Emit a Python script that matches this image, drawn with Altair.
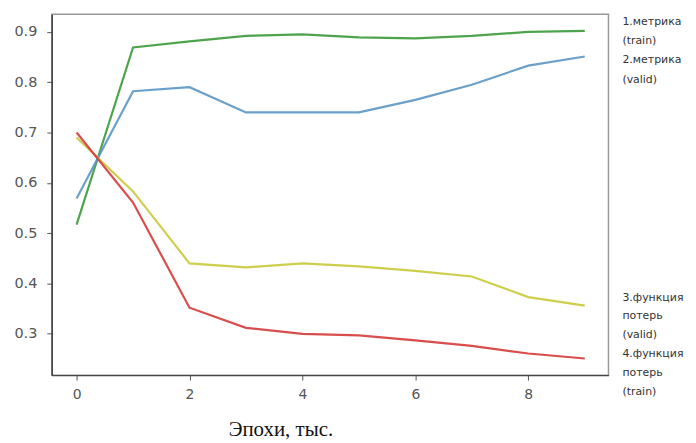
import altair as alt
import pandas as pd

epochs = [0, 1, 2, 3, 4, 5, 6, 7, 8, 9]
metric_train = [0.517, 0.869, 0.881, 0.892, 0.895, 0.889, 0.887, 0.892, 0.900, 0.902]
metric_valid = [0.569, 0.782, 0.790, 0.740, 0.740, 0.740, 0.765, 0.795, 0.833, 0.851]
loss_valid = [0.690, 0.583, 0.440, 0.432, 0.440, 0.434, 0.425, 0.414, 0.373, 0.356]
loss_train = [0.700, 0.561, 0.352, 0.312, 0.300, 0.297, 0.287, 0.276, 0.261, 0.251]

series_names = ["metric_train", "metric_valid", "loss_valid", "loss_train"]
series_colors = ["#3a9a3a", "#5a96c4", "#c9c93a", "#d63a3a"]

labels_top = ["1.метрика", "(train)", "2.метрика", "(valid)"]
labels_bottom = ["3.функция", "потерь", "(valid)", "4.функция", "потерь", "(train)"]

rows = []
for name, vals in zip(series_names, [metric_train, metric_valid, loss_valid, loss_train]):
    for e, v in zip(epochs, vals):
        rows.append({"epoch": e, "value": v, "series": name})
df = pd.DataFrame(rows)

W, H = 560, 363

lines = alt.Chart(df).mark_line(strokeWidth=2.2, opacity=0.9).encode(
    x=alt.X("epoch:Q",
            scale=alt.Scale(domain=[-0.44, 9.42], nice=False, zero=False),
            axis=alt.Axis(values=[0, 2, 4, 6, 8], format="d", title="Эпохи, тыс.",
                          titleFont="Liberation Serif", titleFontSize=21,
                          titleFontWeight="normal", titleColor="#111",
                          titleX=230, titleY=55, titleBaseline="middle",
                          titleAlign="center",
                          labelFont="DejaVu Sans", labelFontSize=14, labelColor="#555",
                          tickColor="#555", tickSize=5, labelPadding=8,
                          domainColor="#444", domainWidth=1.5, grid=False)),
    y=alt.Y("value:Q",
            scale=alt.Scale(domain=[0.218, 0.935], nice=False, zero=False),
            axis=alt.Axis(values=[0.3, 0.4, 0.5, 0.6, 0.7, 0.8, 0.9], format=".1f", title=None,
                          labelFont="DejaVu Sans", labelFontSize=14.5, labelColor="#555",
                          tickColor="#555", tickSize=5, labelPadding=10,
                          domainColor="#444", domainWidth=1.5, grid=False)),
    color=alt.Color("series:N", scale=alt.Scale(domain=series_names, range=series_colors), legend=None),
    detail="series:N",
)

top_df = pd.DataFrame({"t": labels_top, "i": list(range(len(labels_top)))})
bot_df = pd.DataFrame({"t": labels_bottom, "i": list(range(len(labels_bottom)))})

top_text = alt.Chart(top_df).transform_calculate(py="7.5 + datum.i * 19.5").mark_text(
    align="left", baseline="middle", font="DejaVu Sans", fontSize=11, color="#333"
).encode(x=alt.value(W + 14), y=alt.Y("py:Q", scale=None), text="t:N")

bot_text = alt.Chart(bot_df).transform_calculate(py="285 + datum.i * 19").mark_text(
    align="left", baseline="middle", font="DejaVu Sans", fontSize=11, color="#333"
).encode(x=alt.value(W + 14), y=alt.Y("py:Q", scale=None), text="t:N")

chart = alt.layer(lines, top_text, bot_text).properties(
    width=W, height=H,
    autosize=alt.AutoSizeParams(type="none"),
    padding={"left": 44, "top": 5, "right": 80, "bottom": 70},
    background="white",
).configure_view(stroke="#999", strokeWidth=1.5)

chart.save("out.html", embed_options={"renderer": "svg", "actions": False})
